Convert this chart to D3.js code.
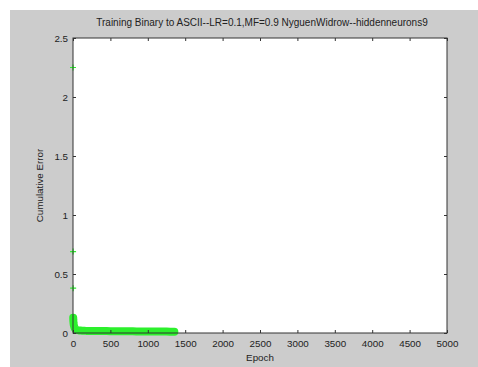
<!DOCTYPE html>
<html lang="en">
<head>
<meta charset="utf-8">
<title>Training Binary to ASCII</title>
<style>
  * { margin: 0; padding: 0; box-sizing: border-box; }
  body { background: #fff; overflow: hidden; }
  svg { display: block; }
  .tick text { font-family: "Liberation Sans", Arial, sans-serif; font-size: 9.8px; fill: #222; }
  .lbl { font-family: "Liberation Sans", Arial, sans-serif; fill: #222; }
</style>
</head>
<body>
<svg id="chart" width="478" height="367"></svg>
<script src="https://cdn.jsdelivr.net/npm/d3@7"></script>
<script>
// epochs and cumulative error
const epochs = [0, 1, 2, 3, 4, 5, 7, 10, 14, 18, 24, 30, 40, 50, 65, 80, 100, 125, 150, 175, 200,
  250, 300, 350, 400, 450, 500, 550, 600, 650, 700, 750, 800, 850, 900, 950, 1000,
  1050, 1100, 1150, 1200, 1250, 1300, 1330, 1355];
const errors = [2.25, 0.69, 0.38, 0.13, 0.11, 0.1, 0.085, 0.07, 0.06, 0.05, 0.04, 0.035, 0.03, 0.027, 0.024, 0.022, 0.021, 0.02, 0.019, 0.018, 0.018,
  0.017, 0.017, 0.016, 0.016, 0.016, 0.015, 0.015, 0.015, 0.014, 0.014, 0.014, 0.014, 0.013, 0.013, 0.013, 0.013,
  0.012, 0.012, 0.012, 0.012, 0.012, 0.011, 0.011, 0.011];

const xTicks = [0, 500, 1000, 1500, 2000, 2500, 3000, 3500, 4000, 4500, 5000];
const yTicks = [0, 0.5, 1, 1.5, 2, 2.5];

const title = "Training Binary to ASCII--LR=0.1,MF=0.9 NyguenWidrow--hiddenneurons9";

const svg = d3.select("#chart");
const m = { left: 73, right: 447, top: 38, bottom: 333 };

// grey figure background
svg.append("rect").attr("x", 10).attr("y", 10).attr("width", 468).attr("height", 357).attr("fill", "#cccccc");
svg.append("rect").attr("x", m.left).attr("y", m.top)
  .attr("width", m.right - m.left).attr("height", m.bottom - m.top).attr("fill", "#fff");

const x = d3.scaleLinear().domain([0, 5000]).range([m.left, m.right]);
const y = d3.scaleLinear().domain([0, 2.5]).range([m.bottom, m.top]);

const green = "#2cf02c";

// plus markers for every point
const pts = svg.append("g");
epochs.forEach((e, i) => {
  const cx = x(e), cy = y(errors[i]);
  pts.append("path")
    .attr("d", `M${cx - 3},${cy}H${cx + 3}M${cx},${cy - 3}V${cy + 3}`)
    .attr("stroke", green).attr("stroke-width", 1.2).attr("fill", "none");
});
// the tail markers overlap so much they read as one thick band
const band = epochs.map((e, i) => [x(e), y(errors[i])]).filter((p, i) => epochs[i] >= 3);
svg.append("path")
  .attr("d", d3.line()(band))
  .attr("stroke", green).attr("stroke-width", 8).attr("fill", "none")
  .attr("stroke-linejoin", "round").attr("stroke-linecap", "round");

// axes, ticks pointing inward on all four sides
const styleAxis = g => {
  g.select(".domain").remove();
  g.selectAll(".tick line").attr("stroke", "#333");
};
svg.append("g").attr("transform", `translate(0,${m.bottom})`)
  .call(d3.axisBottom(x).tickValues(xTicks).tickSizeInner(-3).tickSizeOuter(0).tickPadding(7).tickFormat(d3.format("d")))
  .call(styleAxis);
svg.append("g").attr("transform", `translate(0,${m.top})`)
  .call(d3.axisTop(x).tickValues(xTicks).tickSizeInner(-3).tickSizeOuter(0).tickFormat(""))
  .call(styleAxis);
svg.append("g").attr("transform", `translate(${m.left},0)`)
  .call(d3.axisLeft(y).tickValues(yTicks).tickSizeInner(-3).tickSizeOuter(0).tickPadding(5).tickFormat(d3.format("")))
  .call(styleAxis);
svg.append("g").attr("transform", `translate(${m.right},0)`)
  .call(d3.axisRight(y).tickValues(yTicks).tickSizeInner(-3).tickSizeOuter(0).tickFormat(""))
  .call(styleAxis);

svg.append("rect").attr("x", m.left).attr("y", m.top)
  .attr("width", m.right - m.left).attr("height", m.bottom - m.top)
  .attr("fill", "none").attr("stroke", "#333").attr("stroke-width", 1);

// labels
svg.append("text").attr("class", "lbl").attr("x", (m.left + m.right) / 2 + 2).attr("y", 26)
  .attr("text-anchor", "middle").attr("font-size", 10).text(title);
svg.append("text").attr("class", "lbl").attr("x", (m.left + m.right) / 2).attr("y", 361)
  .attr("text-anchor", "middle").attr("font-size", 9.8).text("Epoch");
svg.append("text").attr("class", "lbl")
  .attr("transform", `translate(43,${(m.top + m.bottom) / 2}) rotate(-90)`)
  .attr("text-anchor", "middle").attr("font-size", 9.8).text("Cumulative Error");
</script>
</body>
</html>
